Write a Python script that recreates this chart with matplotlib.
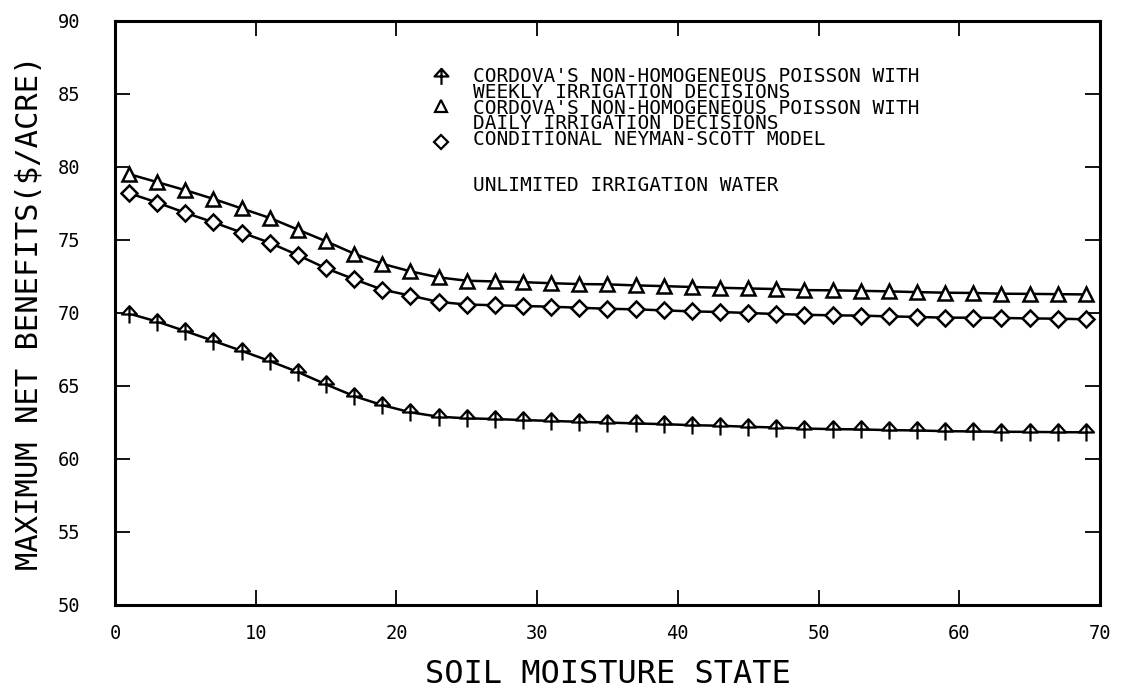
import matplotlib
matplotlib.use("Agg")
import matplotlib.pyplot as plt
from matplotlib.path import Path

# ---- data ----
soil_state = list(range(1, 70, 2))

weekly = [69.95, 69.4, 68.75, 68.08, 67.4, 66.7, 65.95, 65.1, 64.3, 63.68,
          63.19, 62.89, 62.78, 62.73, 62.66, 62.6, 62.54, 62.49, 62.43, 62.38,
          62.31, 62.27, 62.20, 62.15, 62.08, 62.04, 62.02, 61.97, 61.95, 61.90,
          61.88, 61.86, 61.85, 61.83, 61.82]

daily = [79.5, 78.95, 78.4, 77.8, 77.15, 76.5, 75.7, 74.9, 74.05, 73.36,
         72.84, 72.43, 72.2, 72.15, 72.1, 72.03, 71.97, 71.95, 71.88, 71.83,
         71.77, 71.72, 71.67, 71.63, 71.56, 71.54, 71.51, 71.47, 71.42, 71.38,
         71.36, 71.31, 71.3, 71.28, 71.26]

neyman = [78.2, 77.55, 76.85, 76.2, 75.5, 74.8, 73.95, 73.05, 72.3, 71.59,
          71.18, 70.75, 70.57, 70.52, 70.47, 70.42, 70.35, 70.28, 70.24, 70.17,
          70.10, 70.06, 69.99, 69.92, 69.87, 69.83, 69.81, 69.76, 69.72, 69.67,
          69.67, 69.65, 69.62, 69.6, 69.56]

legend_lines = [
    "CORDOVA'S NON-HOMOGENEOUS POISSON WITH",
    "WEEKLY IRRIGATION DECISIONS",
    "CORDOVA'S NON-HOMOGENEOUS POISSON WITH",
    "DAILY IRRIGATION DECISIONS",
    "CONDITIONAL NEYMAN-SCOTT MODEL",
]
note_text = "UNLIMITED IRRIGATION WATER"
x_ticks = [0, 10, 20, 30, 40, 50, 60, 70]
y_ticks = [50, 55, 60, 65, 70, 75, 80, 85, 90]

# ---- custom arrow marker (open triangle head on a stem) ----
arrow_verts = [(-0.5, 0.0), (0.0, 0.55), (0.5, 0.0), (-0.5, 0.0),
               (0.0, 0.55), (0.0, -0.6)]
arrow_codes = [Path.MOVETO, Path.LINETO, Path.LINETO, Path.CLOSEPOLY,
               Path.MOVETO, Path.LINETO]
arrow_marker = Path(arrow_verts, arrow_codes)

plt.rcParams['font.family'] = ['DejaVu Sans Mono', 'DejaVu Sans']

fig = plt.figure(figsize=(11.27, 6.91), dpi=100)
ax = fig.add_axes([0.102, 0.1245, 0.874, 0.8455])

lw = 1.8
ax.plot(soil_state, weekly, color='black', lw=lw, marker=arrow_marker,
        markersize=13, markerfacecolor='white', markeredgecolor='black',
        markeredgewidth=1.6)
ax.plot(soil_state, daily, color='black', lw=lw, marker='^',
        markersize=10, markerfacecolor='white', markeredgecolor='black',
        markeredgewidth=1.8)
ax.plot(soil_state, neyman, color='black', lw=lw, marker='D',
        markersize=8.5, markerfacecolor='white', markeredgecolor='black',
        markeredgewidth=1.8)

ax.set_xlim(0, 70)
ax.set_ylim(50, 90)
ax.set_xticks(x_ticks)
ax.set_yticks(y_ticks)
ax.tick_params(direction='in', length=11, width=1.3, top=True, right=True,
               labelsize=13.5, colors='black')
ax.tick_params(axis='x', pad=14)
ax.tick_params(axis='y', pad=25)
for s in ax.spines.values():
    s.set_linewidth(2.2)

ax.set_xlabel("SOIL MOISTURE STATE", fontsize=23)
ax.set_ylabel("MAXIMUM NET BENEFITS($/ACRE)", fontsize=22)
ax.xaxis.set_label_coords(0.5, -0.093)
ax.yaxis.set_label_coords(-0.073, 0.5)

# ---- legend drawn manually (one text block, markers beside entries) ----
mk_x = 0.331
tx_x = 0.3635
ax.text(tx_x, 0.921, "\n".join(legend_lines), transform=ax.transAxes,
        fontsize=14, va='top', ha='left', linespacing=0.79)
legend_markers = [(arrow_marker, 12, 0.905), ('^', 8, 0.8545),
                  ('D', 7, 0.793)]
for m, ms, yy in legend_markers:
    ax.plot([mk_x], [yy], transform=ax.transAxes, marker=m, markersize=ms,
            markerfacecolor='white', markeredgecolor='black',
            markeredgewidth=1.6, linestyle='none', clip_on=False)
ax.text(tx_x, 0.7175, note_text, transform=ax.transAxes,
        fontsize=14, va='center', ha='left')

fig.savefig("out.png", dpi=100)
